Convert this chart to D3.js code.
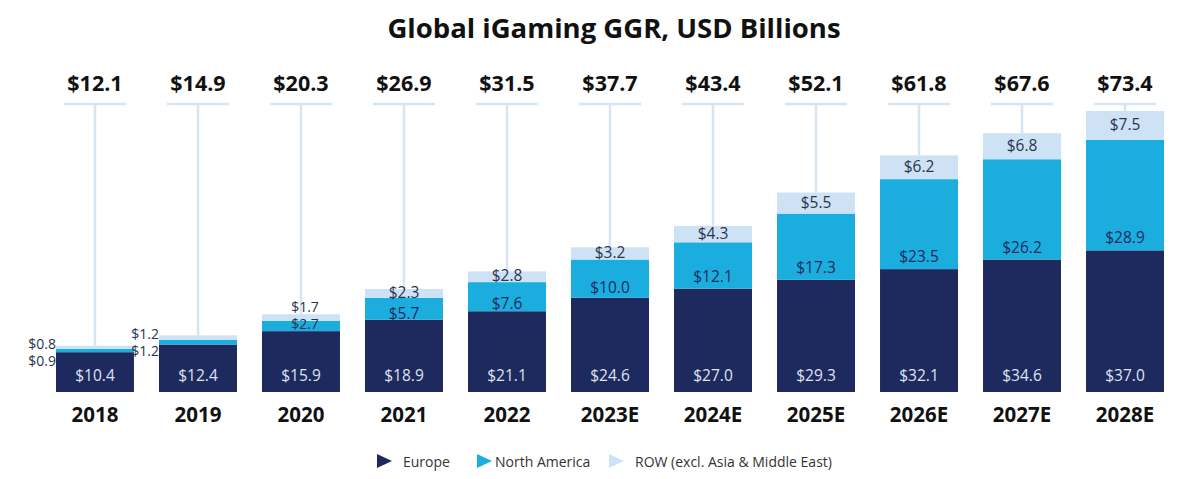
<!DOCTYPE html>
<html>
<head>
<meta charset="utf-8">
<script src="https://cdn.jsdelivr.net/npm/d3@7"></script>
<style>
  body { margin: 0; background: #fff; }
  text { font-family: "Open Sans", "Noto Sans", sans-serif; }
</style>
</head>
<body>
<div id="my_dataviz"></div>
<script>
// data
const years = ["2018", "2019", "2020", "2021", "2022", "2023E", "2024E", "2025E", "2026E", "2027E", "2028E"];
const europe = [10.4, 12.4, 15.9, 18.9, 21.1, 24.6, 27.0, 29.3, 32.1, 34.6, 37.0];
const northAmerica = [0.9, 1.2, 2.7, 5.7, 7.6, 10.0, 12.1, 17.3, 23.5, 26.2, 28.9];
const row = [0.8, 1.2, 1.7, 2.3, 2.8, 3.2, 4.3, 5.5, 6.2, 6.8, 7.5];
const totals = [12.1, 14.9, 20.3, 26.9, 31.5, 37.7, 43.4, 52.1, 61.8, 67.6, 73.4];
const seriesNames = ["Europe", "North America", "ROW (excl. Asia & Middle East)"];
const colors = ["#1e2a5e", "#1badde", "#cde3f5"];

const width = 1200, height = 479;

const svg = d3.select("#my_dataviz")
    .append("svg")
    .attr("width", width)
    .attr("height", height);

// title
svg.append("text")
    .attr("x", 614)
    .attr("y", 38)
    .attr("text-anchor", "middle")
    .attr("font-size", 27.5)
    .attr("font-weight", 700)
    .attr("fill", "#111")
    .text("Global iGaming GGR, USD Billions");

const x = d3.scaleBand()
    .domain(years)
    .range([56, 1164])
    .paddingInner(0.243)
    .paddingOuter(0);

const y = d3.scaleLinear()
    .domain([0, 73.4])
    .range([392, 111]);

// stack the three series
const table = years.map((yr, i) => ({year: yr, eu: europe[i], na: northAmerica[i], row: row[i]}));
const stack = d3.stack().keys(["eu", "na", "row"]);
const layers = stack(table);

const connY = 104;

// connector lines to the total labels
const conn = svg.append("g").attr("stroke", "#d5e5f3").attr("stroke-width", 2.5);
years.forEach((yr, i) => {
    const cx = x(yr) + x.bandwidth() / 2;
    conn.append("line")
        .attr("x1", cx - 31).attr("x2", cx + 31)
        .attr("y1", connY).attr("y2", connY);
    conn.append("line")
        .attr("x1", cx).attr("x2", cx)
        .attr("y1", connY).attr("y2", y(europe[i] + northAmerica[i] + row[i]));
});

// bars
svg.append("g")
    .selectAll("g")
    .data(layers)
    .join("g")
    .attr("fill", (d, i) => colors[i])
    .selectAll("rect")
    .data(d => d)
    .join("rect")
    .attr("x", d => x(d.data.year))
    .attr("width", x.bandwidth())
    .attr("y", d => y(d[1]))
    .attr("height", d => y(d[0]) - y(d[1]));

// total labels
svg.append("g")
    .selectAll("text")
    .data(totals)
    .join("text")
    .attr("x", (d, i) => x(years[i]) + x.bandwidth() / 2)
    .attr("y", 91)
    .attr("text-anchor", "middle")
    .attr("font-size", 21.5)
    .attr("font-weight", 700)
    .attr("fill", "#111")
    .text(d => "$" + d.toFixed(1));

// year labels
svg.append("g")
    .selectAll("text")
    .data(years)
    .join("text")
    .attr("x", d => x(d) + x.bandwidth() / 2)
    .attr("y", 422)
    .attr("text-anchor", "middle")
    .attr("font-size", 20.5)
    .attr("font-weight", 700)
    .attr("fill", "#111")
    .text(d => d);

// segment value labels
const lab = svg.append("g").attr("font-size", 15.5).attr("dominant-baseline", "central");
const fmt = v => "$" + v.toFixed(1);
years.forEach((yr, i) => {
    const cx = x(yr) + x.bandwidth() / 2;
    const left = x(yr);
    const top = y(layers[2][i][1]);
    const naTop = y(layers[1][i][1]);
    const naBot = y(layers[1][i][0]);
    const total = layers[2][i][1];

    lab.append("text")
        .attr("x", cx).attr("y", y(0) - 17)
        .attr("text-anchor", "middle")
        .attr("fill", "#dfe3ef")
        .text(fmt(europe[i]));

    if (total < 16) {
        // too thin: labels to the left of the bar
        lab.append("text").attr("x", left).attr("y", top - 2)
            .attr("font-size", 14)
            .attr("text-anchor", "end").attr("fill", "#2b3350").text(fmt(row[i]));
        lab.append("text").attr("x", left).attr("y", top + 15)
            .attr("font-size", 14)
            .attr("text-anchor", "end").attr("fill", "#2b3350").text(fmt(northAmerica[i]));
    } else if (total < 22) {
        lab.append("text").attr("x", cx + 4).attr("y", top - 8)
            .attr("font-size", 14)
            .attr("text-anchor", "middle").attr("fill", "#2b3350").text(fmt(row[i]));
        lab.append("text").attr("x", cx + 4).attr("y", top + 9)
            .attr("font-size", 14)
            .attr("text-anchor", "middle").attr("fill", "#2b3350").text(fmt(northAmerica[i]));
    } else {
        lab.append("text").attr("x", cx).attr("y", (top + naTop) / 2 - 1.5)
            .attr("text-anchor", "middle").attr("fill", "#2b3350").text(fmt(row[i]));
        const off = Math.min(13, Math.max(6.5, (naBot - naTop) * 0.28));
        lab.append("text").attr("x", cx).attr("y", naBot - off)
            .attr("text-anchor", "middle").attr("fill", "#1e2a5e").text(fmt(northAmerica[i]));
    }
});

// legend
const legendX = [377, 477, 609];
const legend = svg.append("g");
seriesNames.forEach((name, i) => {
    const g = legend.append("g").attr("transform", `translate(${legendX[i]},461)`);
    g.append("path")
        .attr("d", "M0,-7L15,0L0,7Z")
        .attr("fill", colors[i]);
    g.append("text")
        .attr("x", i === 1 ? 18 : 26)
        .attr("y", 0)
        .attr("dominant-baseline", "central")
        .attr("font-size", 14)
        .attr("fill", "#333")
        .text(name);
});
</script>
</body>
</html>
